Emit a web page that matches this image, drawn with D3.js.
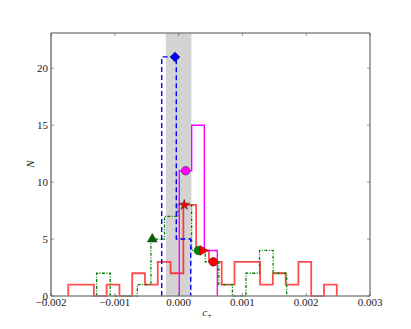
<!DOCTYPE html>
<html>
<head>
<meta charset="utf-8">
<script src="https://cdn.jsdelivr.net/npm/d3@7"></script>
<style>
  html, body { margin: 0; padding: 0; background: #fff; }
  svg { display: block; }
  text { font-family: "Liberation Serif", "DejaVu Serif", serif; fill: #222; }
</style>
</head>
<body>
<svg id="chart" width="411" height="329"></svg>
<script>
// ---- data ----
const xTicks = [-0.002, -0.001, 0.000, 0.001, 0.002, 0.003];
const xTickLabels = ["\u22120.002", "\u22120.001", "0.000", "0.001", "0.002", "0.003"];
const yTicks = [0, 5, 10, 15, 20];
const yTickLabels = ["0", "5", "10", "15", "20"];

// shaded band
const bandRange = [-0.0002, 0.0002];

// red histogram (bin edges start + width, counts)
const redStart = -0.001729;
const redWidth = 0.0002004;
const redCounts = [1, 1, 0, 1, 0, 2, 1, 3, 2, 8, 4, 3, 1, 3, 3, 1, 2, 1, 3, 0, 1];

// green histogram
const greenStart = -0.001285;
const greenWidth = 0.0002128;
const greenCounts = [2, 0, 0, 1, 5, 7, 8, 4, 3, 1, 0, 2, 4, 2];

// blue histogram
const blueEdges = [-0.000265, -0.000036, 0.00019];
const blueCounts = [21, 5];

// magenta histogram
const magentaEdges = [0.000011, 0.000205, 0.000403, 0.000607];
const magentaCounts = [11, 15, 4];

// markers
const markerX = [-0.000056, 0.000111, 0.000089, -0.000412, 0.000309, 0.000378, 0.000544];
const markerY = [21, 11, 8, 5, 4, 4, 3];
const markerShape = ["diamond", "circle", "star", "triangle", "circle", "triRight", "circle"];
const markerColor = ["#0000ff", "#ff00ff", "#ff0000", "#006400", "#008000", "#ff0000", "#ff0000"];

// ---- layout ----
const W = 411, H = 329;
const m = { left: 51, right: 41, top: 33, bottom: 33 };
const svg = d3.select("#chart");
const x = d3.scaleLinear().domain([-0.002, 0.003]).range([m.left, W - m.right]);
const y = d3.scaleLinear().domain([0, 23.1]).range([H - m.bottom, m.top]);

const g = svg.append("g");

// band
g.append("rect")
  .attr("x", x(bandRange[0])).attr("y", y(23.1))
  .attr("width", x(bandRange[1]) - x(bandRange[0]))
  .attr("height", y(0) - y(23.1))
  .attr("fill", "#d3d3d3");

function stepPath(edges, counts) {
  const p = d3.path();
  p.moveTo(x(edges[0]), y(0));
  counts.forEach((c, i) => {
    p.lineTo(x(edges[i]), y(c));
    p.lineTo(x(edges[i + 1]), y(c));
  });
  p.lineTo(x(edges[edges.length - 1]), y(0));
  return p.toString();
}
const redEdges = d3.range(redCounts.length + 1).map(i => redStart + i * redWidth);
const greenEdges = d3.range(greenCounts.length + 1).map(i => greenStart + i * greenWidth);

g.append("path").attr("d", stepPath(redEdges, redCounts))
  .attr("fill", "none").attr("stroke", "#ff0000").attr("stroke-opacity", 0.7)
  .attr("stroke-width", 1.8);
g.append("path").attr("d", stepPath(greenEdges, greenCounts))
  .attr("fill", "none").attr("stroke", "#008000").attr("stroke-width", 1.3)
  .attr("stroke-dasharray", "3,1.5,1,1.5");
g.append("path").attr("d", stepPath(blueEdges, blueCounts))
  .attr("fill", "none").attr("stroke", "#0000ff").attr("stroke-width", 1.4)
  .attr("stroke-dasharray", "5,3");
g.append("path").attr("d", stepPath(magentaEdges, magentaCounts))
  .attr("fill", "none").attr("stroke", "#ff00ff").attr("stroke-width", 1.4);

// markers
const diamondPath = "M0,-5L5,0L0,5L-5,0Z";
const symMap = {
  diamond: () => diamondPath,
  circle: d3.symbol().type(d3.symbolCircle).size(58),
  star: d3.symbol().type(d3.symbolStar).size(34),
  triangle: d3.symbol().type(d3.symbolTriangle).size(42),
  triRight: d3.symbol().type(d3.symbolTriangle).size(42)
};
markerX.forEach((mx, i) => {
  const s = markerShape[i];
  g.append("path")
    .attr("d", symMap[s]())
    .attr("transform", `translate(${x(mx)},${y(markerY[i])})` + (s === "triRight" ? " rotate(90)" : ""))
    .attr("fill", markerColor[i])
    .attr("stroke", "#222").attr("stroke-width", 0.5);
});

// frame
const x0 = x(-0.002), x1 = x(0.003), y0 = y(0), y1 = y(23.1);
g.append("line").attr("x1", x0).attr("x2", x1).attr("y1", y1).attr("y2", y1).attr("stroke", "#888").attr("stroke-width", 1.5);
g.append("line").attr("x1", x1).attr("x2", x1).attr("y1", y1).attr("y2", y0).attr("stroke", "#888").attr("stroke-width", 1.5);
g.append("line").attr("x1", x0).attr("x2", x1).attr("y1", y0).attr("y2", y0).attr("stroke", "#888").attr("stroke-width", 1.5);
g.append("line").attr("x1", x0).attr("x2", x0).attr("y1", y1).attr("y2", y0).attr("stroke", "#333").attr("stroke-width", 1);

// ticks (inward, both sides)
xTicks.forEach(t => {
  g.append("line").attr("x1", x(t)).attr("x2", x(t)).attr("y1", y0).attr("y2", y0 - 3).attr("stroke", "#555").attr("stroke-width", 0.6);
  g.append("line").attr("x1", x(t)).attr("x2", x(t)).attr("y1", y1).attr("y2", y1 + 3).attr("stroke", "#555").attr("stroke-width", 0.6);
});
yTicks.forEach(t => {
  g.append("line").attr("x1", x0).attr("x2", x0 + 3).attr("y1", y(t)).attr("y2", y(t)).attr("stroke", "#555").attr("stroke-width", 0.6);
  g.append("line").attr("x1", x1).attr("x2", x1 - 3).attr("y1", y(t)).attr("y2", y(t)).attr("stroke", "#555").attr("stroke-width", 0.6);
});

// tick labels
g.selectAll(".xl").data(xTicks).enter().append("text")
  .attr("x", d => x(d)).attr("y", y0 + 10)
  .attr("text-anchor", "middle").attr("font-size", 11)
  .text((d, i) => xTickLabels[i]);
g.selectAll(".yl").data(yTicks).enter().append("text")
  .attr("x", x0 - 3).attr("y", d => y(d) + 4)
  .attr("text-anchor", "end").attr("font-size", 11)
  .text((d, i) => yTickLabels[i]);

// axis labels
svg.append("text").attr("transform", "translate(34,164) rotate(-90)")
  .attr("text-anchor", "middle").attr("font-size", 11).attr("font-style", "italic").text("N");
const xl = svg.append("text").attr("x", 207).attr("y", 316).attr("text-anchor", "middle").attr("font-size", 11);
xl.append("tspan").attr("font-style", "italic").text("c");
xl.append("tspan").attr("font-size", 8).attr("dy", 2).text("+");
</script>
</body>
</html>
